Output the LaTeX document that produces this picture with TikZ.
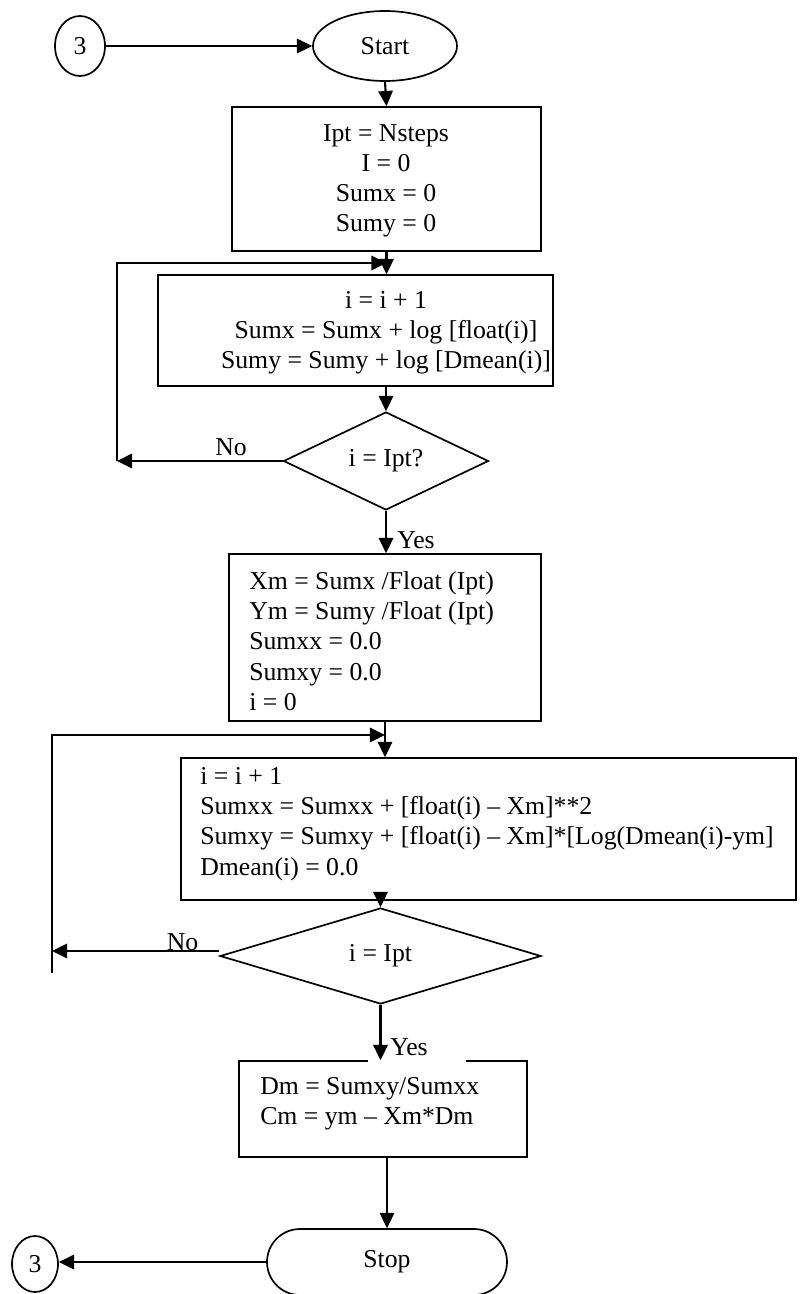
\documentclass[tikz,border=0pt]{standalone}
\usepackage{fontspec}
\setmainfont{Liberation Serif}
\usetikzlibrary{shapes.geometric,shapes.misc,arrows.meta}

\begin{document}
\begin{tikzpicture}[
  font=\fontsize{18.3}{21.5}\selectfont,
  every node/.style={inner sep=0pt},
  shape box/.style={draw, line width=1.2pt},
  box/.style={shape box, rectangle},
  term/.style={shape box, ellipse},
  test/.style={shape box, diamond},
  stopper/.style={shape box, rounded rectangle},
  arr/.style={line width=1.5pt, -{Triangle[length=0.38cm,width=0.36cm]}},
]
\useasboundingbox (0,0) rectangle (20.175,-32.35);

% start
\node[term, minimum width=1.25cm, minimum height=1.5cm] (in) at (2,-1.15) {3};
\node[term, minimum width=3.6cm, minimum height=1.75cm] (start) at (9.625,-1.15) {Start};
\draw[arr] (in.east) -- (start.west);

% first sums
\node[box, minimum width=7.725cm, minimum height=3.6cm] (b1) at (9.6625,-4.475) {};
\node[align=center] (t1) at (9.65,-4.525) {Ipt = Nsteps\\I = 0\\Sumx = 0\\Sumy = 0};
\draw[arr] (start.south) -- (b1.north);

\node[box, minimum width=9.875cm, minimum height=2.775cm] (b2) at (8.8875,-8.2625) {};
\node[align=center] (t2) at (9.65,-8.325) {i = i + 1\\Sumx = Sumx + log [float(i)]\\Sumy = Sumy + log [Dmean(i)]};
\draw[arr] (b1.south) -- (b1.south |- b2.north);

\node[test, minimum width=5.125cm, minimum height=2.45cm] (d1) at (9.65,-11.525) {i = Ipt?};
\draw[arr] (d1.north |- b2.south) -- (d1.north);

\coordinate (lp1) at (2.925,-6.575);
\draw[arr] (d1.west) -- (lp1 |- d1.west);
\draw[arr] (lp1 |- d1.west) -- (lp1) -- (lp1 -| b1.south);
\node (no1) at (5.775,-11.175) {No};

% means
\node[box, minimum width=7.8cm, minimum height=4.175cm] (b3) at (9.625,-15.9375) {};
\node[align=left, anchor=west] (t3) at (6.225,-16.025) {Xm = Sumx /Float (Ipt)\\Ym = Sumy /Float (Ipt)\\Sumxx = 0.0\\Sumxy = 0.0\\i = 0};
\draw[arr] (d1.south) -- (d1.south |- b3.north);
\node (yes1) at (10.4,-13.5) {Yes};

% second sums
\node[box, minimum width=15.375cm, minimum height=3.55cm] (b4) at (12.2125,-20.725) {};
\node[align=left, anchor=west] (t4) at (5,-20.6) {i = i + 1\\Sumxx = Sumxx + [float(i) – Xm]**2\\Sumxy = Sumxy + [float(i) – Xm]*[Log(Dmean(i)-ym]\\Dmean(i) = 0.0};
\draw[arr] (b3.south) -- (b3.south |- b4.north);

\node[test, minimum width=8.025cm, minimum height=2.4cm] (d2) at (9.5125,-23.9) {i = Ipt};
\draw[arr] (d2.north |- b4.south) -- (d2.north);

\coordinate (lp2) at (1.3,-18.375);
\coordinate (lp2end) at (1.3,-24.325);
\draw[arr] ([yshift=0.125cm]d2.west) -- ([yshift=0.125cm]d2.west -| lp2);
\draw[arr] (lp2end) -- (lp2) -- (lp2 -| b3.south);
\node (no2) at (4.5625,-23.55) {No};

% slope and intercept
\node[box, minimum width=7.2cm, minimum height=2.4cm] (b5) at (9.575,-27.725) {};
\node[align=left, anchor=west] (t5) at (6.5,-27.6) {Dm = Sumxy/Sumxx\\Cm = ym – Xm*Dm};
\node[fill=white, anchor=west, inner xsep=0.55cm, text width=1.35cm, minimum height=0.75cm] (yes2) at (9.2,-26.175) {Yes};
\draw[arr] (d2.south) -- (d2.south |- b5.north);

% stop
\node[stopper, minimum width=6cm, minimum height=1.65cm] (stop) at (9.675,-31.55) {Stop};
\node[term, minimum width=1.15cm, minimum height=1.4cm] (out) at (0.875,-31.6) {3};
\draw[arr] (stop.north |- b5.south) -- (stop.north);
\draw[arr] (stop.west) -- (stop.west -| out.east);
\end{tikzpicture}
\end{document}
